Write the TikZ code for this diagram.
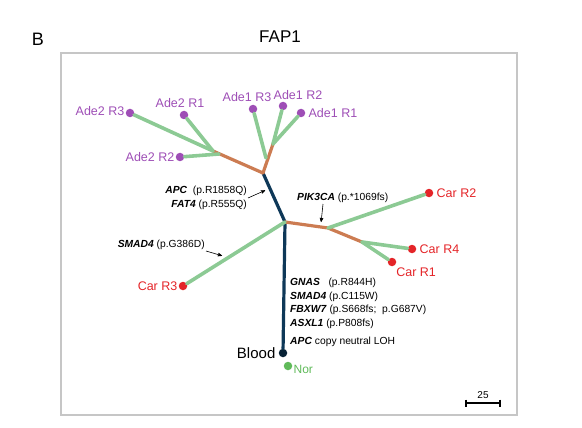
\documentclass[tikz,border=0pt]{standalone}
\usepackage{fontspec}
\setmainfont{Liberation Sans}
\usepackage{tikz}
\usetikzlibrary{arrows, positioning}
\definecolor{colorAde}{RGB}{158,78,182}
\definecolor{colorCar}{RGB}{228,36,40}
\definecolor{colorNor}{RGB}{96,186,90}
\definecolor{colorPrivate}{RGB}{140,202,148}
\definecolor{colorShared}{RGB}{204,124,82}
\definecolor{colorTrunk}{RGB}{14,56,88}
\tikzset{
  tip/.style={circle, fill, inner sep=0pt, minimum size=8.5pt},
  adeText/.style={text=colorAde, font=\fontsize{12.5}{14}\selectfont, inner sep=1pt},
  carText/.style={text=colorCar, font=\fontsize{12.5}{14}\selectfont, inner sep=1pt},
  mutText/.style={font=\fontsize{10.3}{13.5}\selectfont, inner sep=1pt},
  private/.style={colorPrivate, line width=3.6pt, line cap=round},
  shared/.style={colorShared, line width=3.2pt, line cap=round, line join=round},
  trunk/.style={colorTrunk, line width=3.2pt, line cap=round, line join=round},
  pointer/.style={->, >=stealth', semithick, shorten >=1pt}
}
\newcommand{\gene}[1]{\textbf{\textit{#1}}}

\begin{document}
\begin{tikzpicture}[x=1pt, y=-1pt]
\useasboundingbox (0,0) rectangle (582,428);
\node[font=\fontsize{18}{20}\selectfont] (panel) at (38,39) {B};
\node[font=\fontsize{17}{19}\selectfont] (title) at (280,37) {FAP1};
\draw[gray!45, line width=1.3pt] (61,53) rectangle (517,415);

% junctions
\coordinate (jTop) at (263,173);
\coordinate (jAde2) at (213,151);
\coordinate (jAde2b) at (219,154);
\coordinate (jAde1) at (273,144);
\coordinate (jAde1b) at (266,158);
\coordinate (jMid) at (285,222);
\coordinate (jPik) at (328,228);
\coordinate (jCar) at (362,242);

% samples
\node[tip, colorAde] (ade2r3) at (130,113) {};
\node[tip, colorAde] (ade2r1) at (184,115) {};
\node[tip, colorAde] (ade2r2) at (180,157) {};
\node[tip, colorAde] (ade1r3) at (253,109) {};
\node[tip, colorAde] (ade1r2) at (283,106) {};
\node[tip, colorAde] (ade1r1) at (301,113) {};
\node[tip, colorCar] (car2) at (429,193) {};
\node[tip, colorCar] (car4) at (412,249) {};
\node[tip, colorCar] (car1) at (392,262) {};
\node[tip, colorCar] (car3) at (183,286) {};
\node[tip, colorTrunk!60!black] (blood) at (283,353) {};
\node[tip, colorNor] (nor) at (288,366) {};

\node[adeText, left=0pt of ade2r3, yshift=2pt] (ade2r3Txt) {Ade2 R3};
\node[adeText, above=2pt of ade2r1, xshift=-4pt] (ade2r1Txt) {Ade2 R1};
\node[adeText, left=0pt of ade2r2] (ade2r2Txt) {Ade2 R2};
\node[adeText, above=2pt of ade1r3, xshift=-6pt] (ade1r3Txt) {Ade1 R3};
\node[adeText, above=1pt of ade1r2, xshift=15pt] (ade1r2Txt) {Ade1 R2};
\node[adeText, right=2pt of ade1r1] (ade1r1Txt) {Ade1 R1};
\node[carText, right=2pt of car2] (car2Txt) {Car R2};
\node[carText, right=2pt of car4] (car4Txt) {Car R4};
\node[carText, below right=1pt and 0pt of car1] (car1Txt) {Car R1};
\node[carText, left=0pt of car3] (car3Txt) {Car R3};
\node[font=\fontsize{15}{17}\selectfont, inner sep=1pt, left=2pt of blood] (bloodTxt) {Blood};
\node[text=colorNor, font=\fontsize{12}{14}\selectfont, inner sep=1pt, right=0pt of nor, yshift=-3pt] (norTxt) {Nor};

% branches
\draw[trunk] (blood) -- (jMid) -- (jTop);
\draw[shared] (jTop) -- (jAde2);
\draw[shared] (jTop) -- (jAde1);
\draw[shared] (jMid) -- (jPik) -- (jCar);
\draw[private] (jAde2) -- (ade2r3);
\draw[private] (jAde2) -- (ade2r1);
\draw[private] (jAde2b) -- (ade2r2);
\draw[private] (jAde1b) -- (ade1r3);
\draw[private] (jAde1) -- (ade1r2);
\draw[private] (jAde1) -- (ade1r1);
\draw[private] (jPik) -- (car2);
\draw[private] (jCar) -- (car4);
\draw[private] (jCar) -- (car1);
\draw[private] (jMid) -- (car3);

% mutations
\node[mutText, align=right, anchor=east] (apcTxt) at (248,198) {\gene{APC}\ \ (p.R1858Q)\\\gene{FAT4} (p.R555Q)};
\coordinate (aApc) at (266,190);
\draw[pointer] (apcTxt.east) -- (aApc);
\node[mutText, anchor=east] (smadTxt) at (206,245) {\gene{SMAD4} (p.G386D)};
\coordinate (aSmad) at (223,256);
\draw[pointer] (smadTxt.south east) -- (aSmad);
\node[mutText, anchor=west] (pikTxt) at (296,198) {\gene{PIK3CA} (p.*1069fs)};
\coordinate (aPik) at (321,223);
\draw[pointer] (pikTxt.south -| aPik) ++(2,0) -- (aPik);
\node[mutText, align=left, anchor=north west] (truncTxt) at (289,277) {\gene{GNAS}\ \ \ (p.R844H)\\\gene{SMAD4} (p.C115W)\\\gene{FBXW7} (p.S668fs;\ \ p.G687V)\\\gene{ASXL1} (p.P808fs)\\[5pt]\gene{APC} copy neutral LOH};

% scale
\coordinate (barL) at (466,403);
\coordinate (barR) at (500,403);
\draw[line width=1.3pt] (barL) -- (barR);
\draw[line width=1.1pt] (barL) ++(0,-3.5) -- ++(0,7);
\draw[line width=1.1pt] (barR) ++(0,-3.5) -- ++(0,7);
\node[font=\fontsize{10}{12}\selectfont, above=1pt of barL, xshift=17pt] (barTxt) {25};
\end{tikzpicture}
\end{document}
